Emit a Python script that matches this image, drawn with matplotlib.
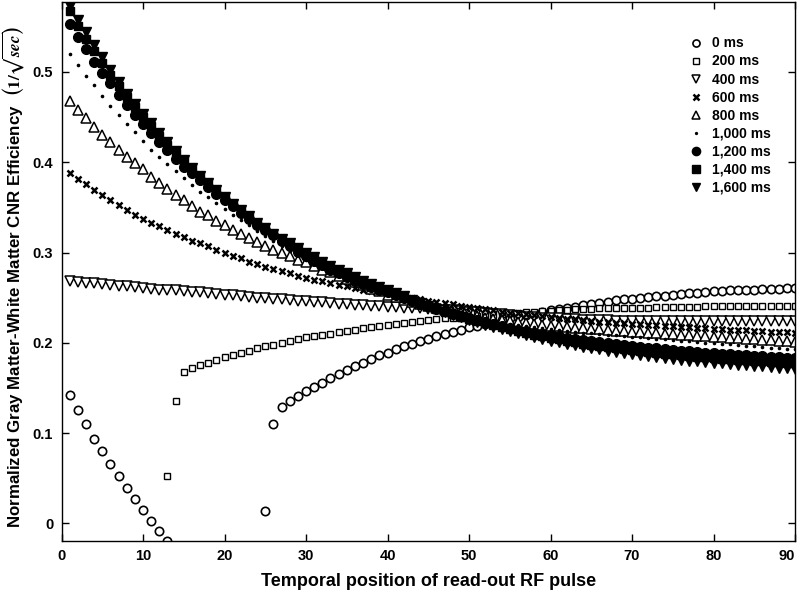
import numpy as np
import matplotlib
matplotlib.use("Agg")
import matplotlib.pyplot as plt

nan = np.nan

# temporal position of the read-out RF pulse (one marker per pulse)
positions = list(range(1, 91))

ti_labels = ["0 ms", "200 ms", "400 ms", "600 ms", "800 ms",
             "1,000 ms", "1,200 ms", "1,400 ms", "1,600 ms"]

# points that fall below the plotted range are left out (nan)
cnr_0ms = [
    0.142, 0.126, 0.110, 0.094, 0.080, 0.066, 0.052, 0.039, 0.027, 0.015,
    0.003, -0.008, -0.019, nan, nan, nan, nan, nan, nan, nan,
    nan, nan, nan, nan, 0.014, 0.110, 0.129, 0.135, 0.141, 0.147,
    0.151, 0.156, 0.161, 0.165, 0.170, 0.174, 0.178, 0.182, 0.186, 0.189,
    0.193, 0.196, 0.199, 0.202, 0.204, 0.207, 0.210, 0.212, 0.214, 0.217,
    0.219, 0.221, 0.223, 0.225, 0.227, 0.229, 0.231, 0.232, 0.234, 0.236,
    0.237, 0.239, 0.240, 0.242, 0.243, 0.244, 0.245, 0.247, 0.248, 0.249,
    0.250, 0.251, 0.252, 0.252, 0.253, 0.254, 0.255, 0.255, 0.256, 0.257,
    0.257, 0.258, 0.258, 0.259, 0.259, 0.260, 0.260, 0.260, 0.261, 0.261,
]
cnr_200ms = [
    nan, nan, nan, nan, nan, nan, nan, nan, nan, nan,
    nan, nan, 0.052, 0.135, 0.168, 0.172, 0.175, 0.178, 0.181, 0.184,
    0.187, 0.189, 0.191, 0.194, 0.196, 0.198, 0.200, 0.202, 0.204, 0.206,
    0.207, 0.209, 0.210, 0.212, 0.213, 0.214, 0.216, 0.217, 0.219, 0.220,
    0.221, 0.222, 0.223, 0.224, 0.225, 0.226, 0.227, 0.228, 0.228, 0.229,
    0.230, 0.231, 0.231, 0.232, 0.233, 0.233, 0.234, 0.234, 0.235, 0.235,
    0.236, 0.236, 0.237, 0.237, 0.237, 0.238, 0.238, 0.238, 0.239, 0.239,
    0.239, 0.239, 0.240, 0.240, 0.240, 0.240, 0.240, 0.240, 0.241, 0.241,
    0.241, 0.241, 0.241, 0.241, 0.241, 0.241, 0.241, 0.241, 0.241, 0.241,
]
cnr_400ms = [
    0.268, 0.267, 0.266, 0.266, 0.265, 0.264, 0.263, 0.263, 0.262, 0.261,
    0.260, 0.259, 0.259, 0.258, 0.257, 0.256, 0.256, 0.255, 0.254, 0.253,
    0.253, 0.252, 0.251, 0.250, 0.250, 0.249, 0.248, 0.247, 0.246, 0.246,
    0.245, 0.245, 0.244, 0.243, 0.243, 0.242, 0.242, 0.241, 0.241, 0.240,
    0.240, 0.239, 0.239, 0.238, 0.237, 0.237, 0.236, 0.236, 0.235, 0.234,
    0.234, 0.233, 0.232, 0.232, 0.231, 0.230, 0.229, 0.229, 0.228, 0.227,
    0.227, 0.226, 0.226, 0.225, 0.225, 0.225, 0.225, 0.2245, 0.2245, 0.2245,
    0.2245, 0.2245, 0.2245, 0.2245, 0.2245, 0.2245, 0.2245, 0.2245, 0.2245, 0.2245,
    0.2245, 0.2245, 0.2245, 0.2245, 0.2245, 0.2245, 0.2245, 0.2245, 0.2245, 0.2245,
]
cnr_600ms = [
    0.388, 0.381, 0.376, 0.369, 0.364, 0.358, 0.353, 0.347, 0.342, 0.337,
    0.333, 0.329, 0.325, 0.321, 0.317, 0.313, 0.310, 0.307, 0.303, 0.299,
    0.296, 0.294, 0.290, 0.287, 0.284, 0.282, 0.279, 0.277, 0.274, 0.272,
    0.270, 0.268, 0.266, 0.264, 0.2625, 0.261, 0.259, 0.257, 0.256, 0.2545,
    0.253, 0.251, 0.250, 0.248, 0.2465, 0.245, 0.244, 0.2425, 0.241, 0.2395,
    0.238, 0.237, 0.236, 0.2345, 0.2335, 0.2325, 0.2315, 0.2305, 0.2295, 0.2285,
    0.2275, 0.2265, 0.226, 0.225, 0.224, 0.2235, 0.223, 0.222, 0.2215, 0.221,
    0.2205, 0.220, 0.2195, 0.219, 0.2183, 0.2177, 0.2171, 0.2165, 0.216, 0.2155,
    0.2150, 0.2145, 0.2141, 0.2137, 0.2133, 0.2129, 0.2125, 0.2121, 0.2117, 0.2113,
]
cnr_800ms = [
    0.468, 0.458, 0.449, 0.439, 0.430, 0.422, 0.414, 0.406, 0.399, 0.392,
    0.384, 0.377, 0.370, 0.364, 0.358, 0.352, 0.345, 0.341, 0.335, 0.331,
    0.325, 0.321, 0.316, 0.312, 0.307, 0.303, 0.299, 0.296, 0.292, 0.289,
    0.285, 0.281, 0.278, 0.274, 0.271, 0.267, 0.264, 0.260, 0.257, 0.253,
    0.2503, 0.2477, 0.2452, 0.2428, 0.2405, 0.2384, 0.2364, 0.2345, 0.2327, 0.2310,
    0.2294, 0.2279, 0.2265, 0.2252, 0.2240, 0.2229, 0.2219, 0.2209, 0.2200, 0.2191,
    0.2183, 0.2175, 0.2168, 0.2161, 0.2154, 0.2148, 0.2142, 0.2136, 0.2130, 0.2125,
    0.2119, 0.2113, 0.2107, 0.2101, 0.2095, 0.2089, 0.2083, 0.2077, 0.2071, 0.2065,
    0.2060, 0.2055, 0.2050, 0.2045, 0.2040, 0.2035, 0.2030, 0.2025, 0.2019, 0.2013,
]
cnr_1000ms = [
    0.520, 0.508, 0.496, 0.485, 0.473, 0.462, 0.452, 0.442, 0.433, 0.423,
    0.414, 0.406, 0.398, 0.390, 0.382, 0.375, 0.367, 0.361, 0.355, 0.348,
    0.342, 0.336, 0.330, 0.324, 0.318, 0.313, 0.307, 0.302, 0.297, 0.292,
    0.287, 0.283, 0.278, 0.274, 0.270, 0.266, 0.262, 0.259, 0.256, 0.253,
    0.250, 0.247, 0.244, 0.2415, 0.239, 0.2368, 0.2346, 0.2325, 0.2305, 0.2286,
    0.2268, 0.2251, 0.2235, 0.2220, 0.2206, 0.2193, 0.2181, 0.2170, 0.2160, 0.2150,
    0.2141, 0.2132, 0.2123, 0.2114, 0.2105, 0.2097, 0.2089, 0.2081, 0.2073, 0.2066,
    0.2059, 0.2052, 0.2045, 0.2038, 0.2031, 0.2024, 0.2017, 0.2010, 0.2003, 0.1996,
    0.1989, 0.1982, 0.1975, 0.1968, 0.1961, 0.1954, 0.1948, 0.1942, 0.1936, 0.1930,
]
cnr_1200ms = [
    0.553, 0.539, 0.525, 0.511, 0.499, 0.4875, 0.4745, 0.4634, 0.4524, 0.4424,
    0.432, 0.4228, 0.413, 0.404, 0.395, 0.388, 0.380, 0.373, 0.365, 0.358,
    0.351, 0.344, 0.337, 0.331, 0.325, 0.319, 0.313, 0.307, 0.301, 0.296,
    0.291, 0.286, 0.281, 0.277, 0.273, 0.269, 0.265, 0.262, 0.259, 0.2565,
    0.2530, 0.2496, 0.2464, 0.2434, 0.2405, 0.2377, 0.2350, 0.2324, 0.2299, 0.2275,
    0.2250, 0.2227, 0.2205, 0.2185, 0.2165, 0.2147, 0.2130, 0.2114, 0.2099, 0.2085,
    0.2071, 0.2057, 0.2043, 0.2030, 0.2018, 0.2006, 0.1995, 0.1985, 0.1975, 0.1965,
    0.1956, 0.1947, 0.1938, 0.1929, 0.1920, 0.1913, 0.1906, 0.1899, 0.1892, 0.1885,
    0.1879, 0.1873, 0.1867, 0.1861, 0.1855, 0.1850, 0.1845, 0.1840, 0.1835, 0.1830,
]
cnr_1400ms = [
    0.567, 0.551, 0.537, 0.523, 0.510, 0.497, 0.484, 0.472, 0.461, 0.450,
    0.440, 0.429, 0.419, 0.410, 0.401, 0.392, 0.384, 0.376, 0.368, 0.360,
    0.353, 0.346, 0.339, 0.332, 0.326, 0.320, 0.314, 0.309, 0.304, 0.299,
    0.294, 0.289, 0.284, 0.280, 0.276, 0.272, 0.268, 0.264, 0.261, 0.258,
    0.2542, 0.2506, 0.2471, 0.2437, 0.2405, 0.2375, 0.2346, 0.2318, 0.2291, 0.2265,
    0.2240, 0.2216, 0.2193, 0.2171, 0.2150, 0.2130, 0.2110, 0.2091, 0.2073, 0.2056,
    0.2039, 0.2023, 0.2007, 0.1992, 0.1979, 0.1966, 0.1953, 0.1941, 0.1930, 0.1919,
    0.1909, 0.1899, 0.1889, 0.1880, 0.1871, 0.1862, 0.1854, 0.1846, 0.1839, 0.1832,
    0.1825, 0.1818, 0.1812, 0.1806, 0.1800, 0.1794, 0.1788, 0.1783, 0.1778, 0.1773,
]
cnr_1600ms = [
    0.573, 0.558, 0.544, 0.530, 0.516, 0.502, 0.489, 0.476, 0.465, 0.453,
    0.443, 0.432, 0.422, 0.412, 0.403, 0.394, 0.385, 0.377, 0.369, 0.361,
    0.354, 0.347, 0.340, 0.333, 0.327, 0.321, 0.315, 0.310, 0.305, 0.300,
    0.295, 0.290, 0.285, 0.281, 0.277, 0.273, 0.269, 0.265, 0.262, 0.259,
    0.2551, 0.2513, 0.2476, 0.2440, 0.2405, 0.2373, 0.2342, 0.2312, 0.2283, 0.2255,
    0.2228, 0.2202, 0.2177, 0.2153, 0.2130, 0.2108, 0.2086, 0.2065, 0.2045, 0.2025,
    0.2006, 0.1988, 0.1971, 0.1955, 0.1940, 0.1926, 0.1912, 0.1899, 0.1886, 0.1874,
    0.1862, 0.1851, 0.1840, 0.1830, 0.1820, 0.1811, 0.1802, 0.1794, 0.1786, 0.1778,
    0.1771, 0.1764, 0.1757, 0.1750, 0.1744, 0.1738, 0.1732, 0.1726, 0.1720, 0.1715,
]

y_ticks = [0, 0.1, 0.2, 0.3, 0.4, 0.5]
y_tick_labels = ["0", "0.1", "0.2", "0.3", "0.4", "0.5"]
x_ticks = [0, 10, 20, 30, 40, 50, 60, 70, 80, 90]

# (marker, size, filled, edge width)
MARKERS = [
    ("o", 6.0, False, 1.2),
    ("s", 4.6, False, 1.0),
    ("v", 6.5, False, 1.1),
    ("x", 5.0, True, 1.8),
    ("^", 6.5, False, 1.1),
    (".", 3.2, True, 1.0),
    ("o", 7.0, True, 1.0),
    ("s", 6.0, True, 1.0),
    ("v", 7.5, True, 1.0),
]


def main() -> None:
    plt.rcParams["font.family"] = ["Liberation Sans", "DejaVu Sans"]
    plt.rcParams["font.weight"] = "bold"

    series = [cnr_0ms, cnr_200ms, cnr_400ms, cnr_600ms, cnr_800ms,
              cnr_1000ms, cnr_1200ms, cnr_1400ms, cnr_1600ms]

    fig = plt.figure(figsize=(8, 5.93), dpi=100)
    ax = fig.add_axes([0.0769, 0.0877, 0.9169, 0.909])

    for values, label, (marker, size, filled, mew) in zip(series, ti_labels, MARKERS):
        ax.plot(positions, values, linestyle="none", marker=marker, markersize=size,
                markeredgewidth=mew, markeredgecolor="black",
                markerfacecolor="black" if filled else "white",
                color="black", label=label)

    ax.set_xlim(0, 90)
    ax.set_ylim(-0.0195, 0.5775)
    ax.set_xticks(x_ticks)
    ax.set_yticks(y_ticks)
    ax.set_yticklabels(y_tick_labels)
    ax.tick_params(direction="in", length=5, width=1, top=True, right=True,
                   labelsize=10.5, pad=6)
    # last x label sits against the right edge of the figure
    ax.get_xticklabels()[-1].set_horizontalalignment("right")
    for spine in ax.spines.values():
        spine.set_linewidth(1.0)

    ax.set_xlabel("Temporal position of read-out RF pulse", fontsize=13, fontweight="bold",
                  labelpad=7)
    ax.set_ylabel(r"Normalized Gray Matter-White Matter CNR Efficiency  $\left(1/\sqrt{sec}\right)$",
                  fontsize=12.2, fontweight="bold", math_fontfamily="stix")
    ax.yaxis.set_label_coords(-0.049, 0.49)

    ax.legend(loc="upper left", bbox_to_anchor=(0.855, 0.936), frameon=False,
              numpoints=1, fontsize=10, handlelength=1.0, handletextpad=0.7,
              labelspacing=0.29, borderpad=0, borderaxespad=0, markerscale=0.85)

    fig.savefig("out.png", dpi=100)
    plt.close(fig)


if __name__ == "__main__":
    main()
